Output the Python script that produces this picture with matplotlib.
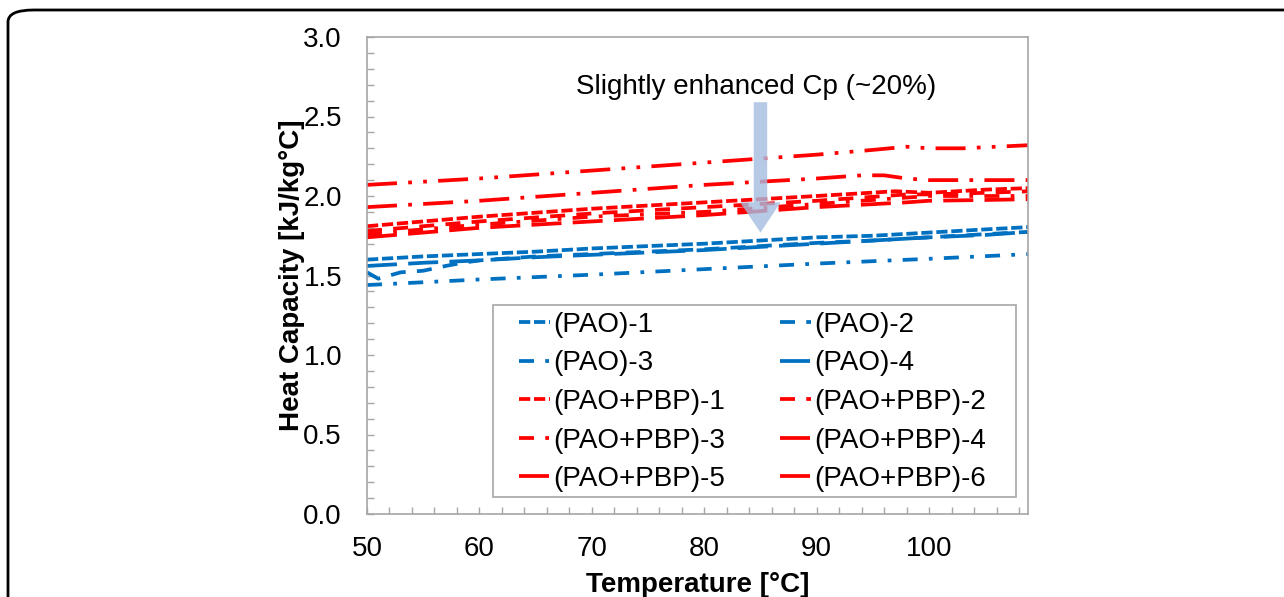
import matplotlib
matplotlib.use("Agg")
import matplotlib.pyplot as plt
from matplotlib.patches import FancyArrow, FancyBboxPatch, Rectangle
from matplotlib.ticker import MultipleLocator, FormatStrFormatter

plt.rcParams['font.family'] = ['Liberation Sans', 'DejaVu Sans']

# ---- data ----
t_pao1 = [50, 55, 60, 65, 70, 75, 80, 85, 90, 95, 100, 105, 109]
pao1 = [1.60, 1.62, 1.635, 1.65, 1.67, 1.685, 1.70, 1.72, 1.74, 1.75, 1.77, 1.79, 1.805]

t_pao2 = [50, 51, 53, 55, 57, 58.5, 60, 65, 70, 75, 80, 85, 90, 95, 100, 105, 109]
pao2 = [1.52, 1.48, 1.52, 1.53, 1.56, 1.58, 1.595, 1.62, 1.635, 1.65, 1.665, 1.685, 1.705, 1.72, 1.74, 1.76, 1.775]

t_pao3 = [50, 60, 70, 80, 90, 100, 109]
pao3 = [1.44, 1.475, 1.505, 1.54, 1.575, 1.605, 1.635]

t_pao4 = [50, 55, 60, 65, 70, 75, 80, 85, 90, 95, 100, 105, 109]
pao4 = [1.56, 1.58, 1.595, 1.615, 1.63, 1.645, 1.66, 1.68, 1.70, 1.72, 1.74, 1.755, 1.775]

t_pbp1 = [50, 60, 70, 80, 90, 97, 100, 105, 109]
pbp1 = [1.81, 1.87, 1.92, 1.96, 2.00, 2.03, 2.02, 2.04, 2.05]

t_pbp2 = [50, 60, 70, 80, 90, 98, 100, 105, 109]
pbp2 = [1.78, 1.84, 1.89, 1.93, 1.97, 2.01, 2.01, 2.02, 2.03]

t_pbp3 = [50, 60, 70, 80, 90, 98, 100, 105, 109]
pbp3 = [1.76, 1.82, 1.87, 1.90, 1.95, 1.99, 2.00, 2.00, 2.00]

t_pbp4 = [50, 60, 70, 80, 90, 98, 100, 105, 109]
pbp4 = [1.74, 1.80, 1.84, 1.88, 1.93, 1.96, 1.97, 1.975, 1.98]

t_pbp5 = [50, 60, 70, 80, 90, 94, 96, 98, 100, 105, 109]
pbp5 = [1.93, 1.97, 2.02, 2.07, 2.11, 2.13, 2.13, 2.11, 2.10, 2.10, 2.10]

t_pbp6 = [50, 60, 70, 80, 90, 95, 98, 100, 103, 109]
pbp6 = [2.07, 2.11, 2.16, 2.21, 2.26, 2.29, 2.31, 2.30, 2.30, 2.32]

labels = ["(PAO)-1", "(PAO)-2", "(PAO)-3", "(PAO)-4",
          "(PAO+PBP)-1", "(PAO+PBP)-2", "(PAO+PBP)-3", "(PAO+PBP)-4",
          "(PAO+PBP)-5", "(PAO+PBP)-6"]

annotation = "Slightly enhanced Cp (~20%)"
arrow_x, arrow_top, arrow_tip = 85.0, 2.59, 1.77

BLUE = "#0070C0"
RED = "#FF0000"

series = [
    (t_pao1, pao1, BLUE, (0, (3, 1))),
    (t_pao2, pao2, BLUE, (0, (4, 3))),
    (t_pao3, pao3, BLUE, (0, (4, 3, 1, 3))),
    (t_pao4, pao4, BLUE, (0, (8, 3))),
    (t_pbp1, pbp1, RED, (0, (3, 1))),
    (t_pbp2, pbp2, RED, (0, (4, 3))),
    (t_pbp3, pbp3, RED, (0, (4, 3, 1, 3))),
    (t_pbp4, pbp4, RED, (0, (8, 3))),
    (t_pbp5, pbp5, RED, (0, (8, 3, 1, 3))),
    (t_pbp6, pbp6, RED, (0, (8, 3, 1, 3, 1, 3))),
]

W, H = 1284, 597
fig = plt.figure(figsize=(W / 100, H / 100), dpi=100)
ax_l, ax_r, ax_t, ax_b = 367, 1028, 37, 514
ax = fig.add_axes([ax_l / W, 1 - ax_b / H, (ax_r - ax_l) / W, (ax_b - ax_t) / H])


def ax_x(px):
    return (px - ax_l) / (ax_r - ax_l)


def ax_y(py):
    return (ax_b - py) / (ax_b - ax_t)


handles = []
for (t, v, c, ls), lab in zip(series, labels):
    h, = ax.plot(t, v, color=c, linestyle=ls, linewidth=2.7, label=lab,
                 dash_capstyle='butt', solid_capstyle='butt')
    handles.append(h)

ax.set_xlim(50, 108.8)
ax.set_ylim(0, 3.0)
ax.xaxis.set_major_locator(MultipleLocator(10))
ax.xaxis.set_minor_locator(MultipleLocator(2))
ax.yaxis.set_major_locator(MultipleLocator(0.5))
ax.yaxis.set_minor_locator(MultipleLocator(0.1))
ax.yaxis.set_major_formatter(FormatStrFormatter('%.1f'))

ax.tick_params(which='both', direction='in', length=5, width=1, color='#a6a6a6',
               labelsize=20, labelcolor='black')
ax.tick_params(axis='y', which='both', pad=18)
ax.tick_params(axis='x', which='both', pad=16)
for s in ax.spines.values():
    s.set_color('#a6a6a6')
    s.set_linewidth(1.2)

ax.set_xlabel("Temperature [°C]", fontsize=20, fontweight='bold', labelpad=7)
ax.set_ylabel("Heat Capacity [kJ/kg°C]", fontsize=20, fontweight='bold', labelpad=-1)

# arrow
arr = FancyArrow(arrow_x, arrow_top, 0, arrow_tip - arrow_top, width=1.2, head_width=3.6,
                 head_length=0.19, length_includes_head=True,
                 facecolor='#a4bde0', edgecolor='none', alpha=0.8, zorder=5)
ax.add_patch(arr)
ax.text(84.6, 2.686, annotation, ha='center', va='center', fontsize=20, zorder=6)

# legend box
box = Rectangle((ax_x(493), ax_y(497)), ax_x(1016) - ax_x(493), ax_y(305) - ax_y(497),
                transform=ax.transAxes, facecolor='white', edgecolor='#a6a6a6',
                linewidth=1.2, zorder=7)
ax.add_patch(box)

order = [0, 2, 4, 6, 8, 1, 3, 5, 7, 9]
leg = ax.legend([handles[i] for i in order], [labels[i] for i in order], ncol=2,
                loc='upper left', bbox_to_anchor=(ax_x(519), ax_y(312)),
                fontsize=20, handlelength=1.12, handletextpad=0.1, borderaxespad=0,
                labelspacing=0.45, columnspacing=2.0, frameon=False, borderpad=0)
leg.set_zorder(8)

# rounded outer frame
frame = FancyBboxPatch((8 / W, -0.1), 1.2, 1 - 10 / H + 0.1,
                       boxstyle="round,pad=0,rounding_size=0.02",
                       transform=fig.transFigure, facecolor='none', edgecolor='black',
                       linewidth=2.0, clip_on=False)
fig.patches.append(frame)

fig.savefig("out.png", dpi=100)
